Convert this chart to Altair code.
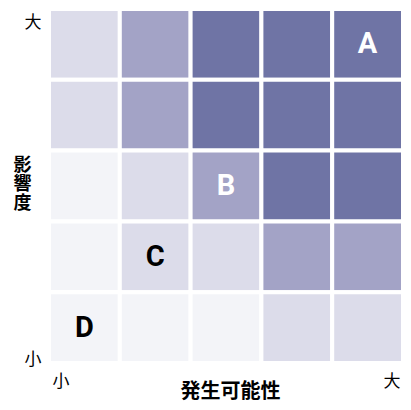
import altair as alt
import pandas as pd

# impact rows from top (5) to bottom (1); levels 0..3 (very light..dark)
impact = [5, 4, 3, 2, 1]
likelihood = [1, 2, 3, 4, 5]
levels = [
    [1, 2, 3, 3, 3],
    [1, 2, 3, 3, 3],
    [0, 1, 2, 3, 3],
    [0, 1, 1, 2, 2],
    [0, 0, 0, 1, 1],
]
level_colors = ["#f3f4f8", "#dcdcea", "#a3a3c6", "#6f74a5"]

label_names = ["A", "B", "C", "D"]
label_x = [5, 3, 2, 1]
label_y = [5, 3, 2, 1]
label_color = ["white", "white", "black", "black"]

rows = []
for r, imp in enumerate(impact):
    for c, lk in enumerate(likelihood):
        rows.append({"x0": lk - 1, "x1": lk, "y0": imp - 1, "y1": imp, "level": levels[r][c]})
cells = pd.DataFrame(rows)

labels = pd.DataFrame({
    "name": label_names,
    "xc": [v - 0.5 for v in label_x],
    "yc": [v - 0.5 for v in label_y],
    "col": label_color,
})

xscale = alt.Scale(domain=[0, 5], nice=False, zero=False)
yscale = alt.Scale(domain=[0, 5], nice=False, zero=False)

xaxis = alt.Axis(values=[0, 5], labelExpr="datum.value == 0 ? '小' : '大'",
                 labelFlush=True, labelFlushOffset=-3, domain=False, ticks=False, grid=False,
                 labelFont="Noto Sans CJK JP", labelFontSize=17, labelColor="#000",
                 labelPadding=10, title="発生可能性", titleFont="Noto Sans CJK JP",
                 titleFontSize=20, titleFontWeight="bold", titleColor="#000",
                 titleX=181, titleAlign="center", titleY=28, titleBaseline="middle")
yaxis = alt.Axis(values=[0, 5], labelExpr="datum.value == 0 ? '小' : '大'",
                 labelFlush=True, labelFlushOffset=0, labelOffset=5, domain=False, ticks=False, grid=False,
                 labelFont="Noto Sans CJK JP", labelFontSize=17, labelColor="#000",
                 labelPadding=8, title=["影", "響", "度"], titleAngle=0,
                 titleFont="Noto Sans CJK JP", titleFontSize=18, titleFontWeight="bold",
                 titleColor="#000", titleX=-27, titleY=156, titleAlign="center",
                 titleBaseline="middle", titleLineHeight=19)

rects = alt.Chart(cells).mark_rect(stroke="white", strokeWidth=4).encode(
    x=alt.X("x0:Q", scale=xscale, axis=xaxis),
    x2="x1:Q",
    y=alt.Y("y0:Q", scale=yscale, axis=yaxis),
    y2="y1:Q",
    color=alt.Color("level:O", scale=alt.Scale(domain=[0, 1, 2, 3], range=level_colors), legend=None),
)

texts = alt.Chart(labels).mark_text(
    font="Liberation Sans Narrow, Roboto", fontSize=29, fontWeight="bold",
    baseline="middle", align="center"
).encode(
    x=alt.X("xc:Q", scale=xscale),
    y=alt.Y("yc:Q", scale=yscale),
    text="name:N",
    color=alt.Color("col:N", scale=None, legend=None),
)

chart = (rects + texts).properties(
    width=354, height=354,
    autosize=alt.AutoSizeParams(type="none"),
    padding={"left": 41, "top": 1, "right": 0, "bottom": 39},
).configure_view(stroke=None)

chart.save("out.html", embed_options={"renderer": "svg", "actions": False})
